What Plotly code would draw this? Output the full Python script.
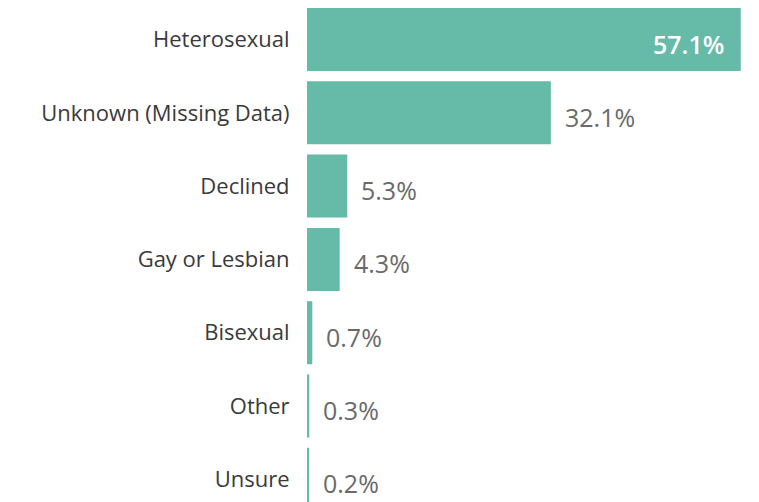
import plotly.graph_objects as go

categories = ["Heterosexual", "Unknown (Missing Data)", "Declined", "Gay or Lesbian",
              "Bisexual", "Other", "Unsure"]
values = [57.1, 32.1, 5.3, 4.3, 0.7, 0.3, 0.2]
labels = ["57.1%", "32.1%", "5.3%", "4.3%", "0.7%", "0.3%", "0.2%"]
inside = [True, False, False, False, False, False, False]

BAR = "#66BAA8"
FONT = "Open Sans, Segoe UI, sans-serif"

fig = go.Figure(go.Bar(
    x=values, y=categories, orientation="h",
    marker=dict(color=BAR, line=dict(width=0)),
    width=0.86, hoverinfo="skip",
))

annotations = []
for c, v, t, ins in zip(categories, values, labels, inside):
    if ins:
        annotations.append(dict(x=v, y=c, xref="x", yref="y", text=t, showarrow=False,
                                xanchor="right", xshift=-15, yshift=-4,
                                font=dict(family=FONT, size=25, color="white", weight=600)))
    else:
        annotations.append(dict(x=v, y=c, xref="x", yref="y", text=t, showarrow=False,
                                xanchor="left", xshift=12, yshift=-4,
                                font=dict(family=FONT, size=25, color="#6a6a6a")))

fig.update_layout(
    width=751, height=494,
    margin=dict(l=299, r=0, t=0, b=0),
    paper_bgcolor="white", plot_bgcolor="white",
    showlegend=False,
    annotations=annotations,
    xaxis=dict(range=[0, 59.5], visible=False, fixedrange=True),
    yaxis=dict(type="category", range=[6.31, -0.43], showgrid=False, zeroline=False,
               showline=False, ticks="outside", ticklen=12, tickcolor="rgba(0,0,0,0)",
               tickfont=dict(family=FONT, size=22, color="#3a3a3a"), fixedrange=True),
)

fig.write_html("out.html")
